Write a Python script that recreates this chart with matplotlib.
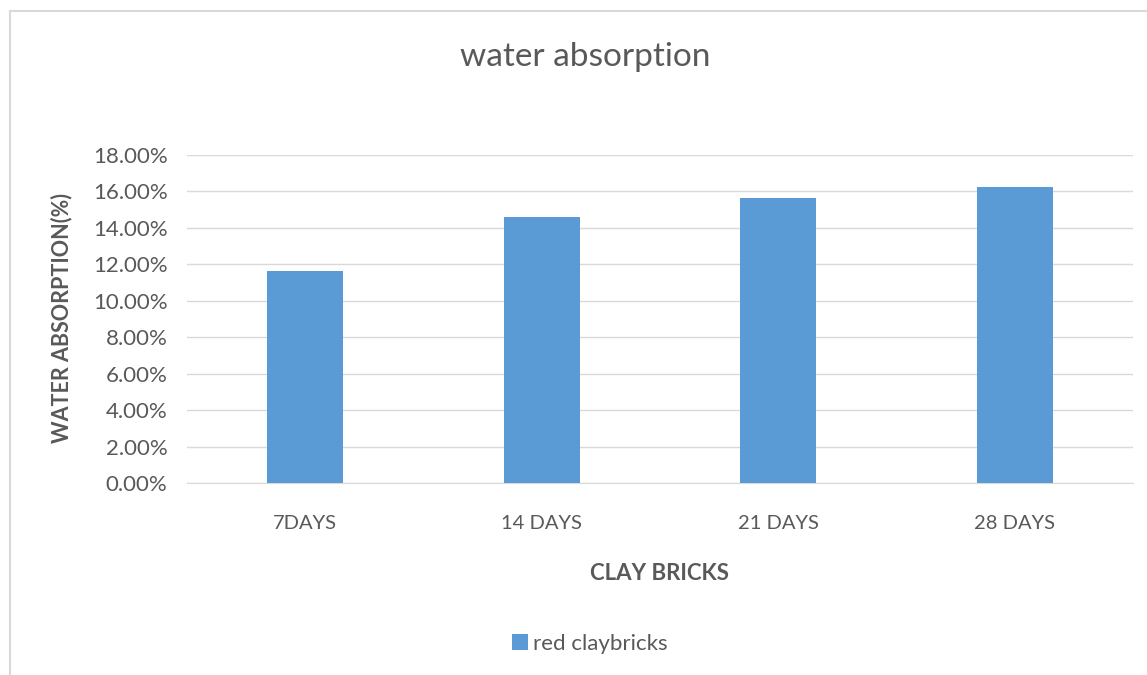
import matplotlib.pyplot as plt
from matplotlib.lines import Line2D

categories = ['7DAYS', '14 DAYS', '21 DAYS', '28 DAYS']
values = [11.63, 14.58, 15.62, 16.26]
series_name = 'red claybricks'
yticks = [0, 2, 4, 6, 8, 10, 12, 14, 16, 18]

W, H = 1147, 675
fig = plt.figure(figsize=(W / 100, H / 100), dpi=100)
plt.rcParams['font.family'] = ['Lato', 'DejaVu Sans']

# chart border (only top and left visible in the crop)
fig.add_artist(Line2D([9.5 / W, 1], [1 - 11 / H, 1 - 11 / H], color='#d9d9d9', lw=1.5))
fig.add_artist(Line2D([9.5 / W, 9.5 / W], [0, 1 - 11 / H], color='#d9d9d9', lw=1.5))

ax = fig.add_axes((187 / W, 1 - 483 / H, (1133 - 187) / W, (483 - 155) / H))
bars = ax.bar(range(len(categories)), values, width=0.32, color='#5b9bd5',
              label=series_name, zorder=3)
ax.set_xlim(-0.5, len(categories) - 0.5)
ax.set_ylim(0, 18)
ax.set_yticks(yticks)
ax.set_yticklabels(['%.2f%%' % v for v in yticks], fontsize=16, color='#595959')
ax.set_xticks(range(len(categories)))
ax.set_xticklabels(categories, fontsize=14.5, color='#595959')
ax.tick_params(axis='y', length=0, pad=14)
ax.tick_params(axis='x', length=0, pad=23)
ax.yaxis.grid(True, color='#d9d9d9', lw=1)
ax.set_axisbelow(True)
for s in ['top', 'right', 'left']:
    ax.spines[s].set_visible(False)
ax.spines['bottom'].set_color('#d9d9d9')

ax.set_ylabel('WATER ABSORPTION(%)', fontsize=15.5, fontweight='bold', color='#595959',
              va='center', ha='center')
ax.yaxis.set_label_coords((62 - 187) / 946, 0.503)
ax.set_xlabel('CLAY BRICKS', fontsize=16, fontweight='bold', color='#595959', labelpad=22)

fig.text(585 / W, 1 - 57 / H, 'water absorption', ha='center', va='center',
         fontsize=24, color='#595959')

fig.legend(handles=[bars], labels=[series_name], loc='center', bbox_to_anchor=(590 / W, 1 - 644 / H),
           frameon=False, fontsize=16, labelcolor='#595959', handlelength=0.7, handleheight=0.7,
           handletextpad=0.25)

fig.savefig('out.png', dpi=100, facecolor='white')
